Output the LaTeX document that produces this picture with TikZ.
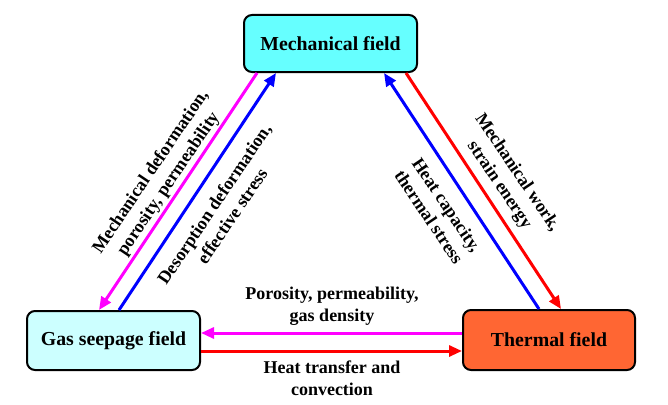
\documentclass[tikz,border=0pt]{standalone}
\usepackage{fontspec}
\setmainfont{Liberation Serif}
\usetikzlibrary{arrows.meta}
\definecolor{mechcol}{HTML}{66FFFF}
\definecolor{gascol}{HTML}{CCFFFF}
\definecolor{thermcol}{HTML}{FF6633}
\definecolor{magc}{HTML}{FF00FF}
\definecolor{bluc}{HTML}{0000FF}
\definecolor{redc}{HTML}{FF0000}
\tikzset{
  fieldbox/.style={draw=black, line width=2pt, rounded corners=8pt, align=center,
    font=\fontsize{19.8}{22}\selectfont\bfseries, inner sep=0pt},
  conn/.style={line width=3pt, -{Triangle[length=13pt,width=11pt]}},
  lbl/.style={align=center, font=\fontsize{18}{21.5}\selectfont\bfseries, inner sep=0pt}
}
\begin{document}
\begin{tikzpicture}[x=1pt,y=-1pt]
\useasboundingbox (0,0) rectangle (668,404);
\node[fieldbox, fill=mechcol, minimum width=173pt, minimum height=57pt] (mech) at (330.5,43.5) {Mechanical field};
\node[fieldbox, fill=gascol, minimum width=173pt, minimum height=59pt] (gas) at (113.5,340.5) {Gas seepage field};
\node[fieldbox, fill=thermcol, minimum width=172pt, minimum height=60pt] (therm) at (549,340) {Thermal field};

\draw[conn, magc] ([xshift=14pt]mech.south west) -- ([xshift=73pt]gas.north west);
\draw[conn, bluc] ([xshift=93pt]gas.north west) -- ([xshift=33pt]mech.south west);
\draw[conn, bluc] ([xshift=77pt]therm.north west) -- ([xshift=-34pt]mech.south east);
\draw[conn, redc] ([xshift=-12pt]mech.south east) -- ([xshift=99pt]therm.north west);
\draw[conn, magc] ([yshift=7pt]therm.west) -- ([yshift=7.5pt]gas.east);
\draw[conn, redc] ([yshift=-10.5pt]gas.east) -- ([yshift=-11pt]therm.west);

\node[lbl, rotate=56] (l1) at (160,178) {Mechanical deformation,\\porosity, permeability};
\node[lbl, rotate=56] (l2) at (223,210) {Desorption deformation,\\effective stress};
\node[lbl, rotate=-56] (l3) at (508,179) {Mechanical work,\\strain energy};
\node[lbl, rotate=-56] (l4) at (438,211) {Heat capacity,\\thermal stress};
\node[lbl] (l5) at (332,306) {Porosity, permeability,\\gas density};
\node[lbl] (l6) at (332,378) {Heat transfer and\\convection};
\end{tikzpicture}
\end{document}
